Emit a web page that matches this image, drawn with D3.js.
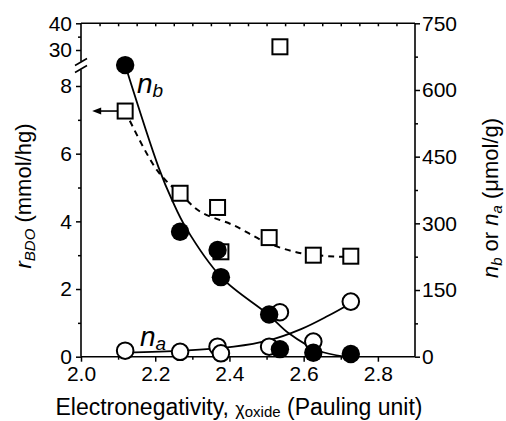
<!DOCTYPE html>
<html>
<head>
<meta charset="utf-8">
<script src="https://cdn.jsdelivr.net/npm/d3@7"></script>
<style>
  body { margin: 0; background: #fff; }
  svg { display: block; font-family: "Liberation Sans", Arial, sans-serif; }
  .axis text { font-size: 21px; fill: #000; }
  .axis line { stroke: #000; stroke-width: 1.5; }
</style>
</head>
<body>
<div id="chart"></div>
<script>
// electronegativity of each oxide
var chi = [2.119, 2.267, 2.368, 2.377, 2.507, 2.536, 2.626, 2.727];
// r_BDO (mmol/hg), left axis (one value sits above the break)
var rBDO = [7.26, 4.83, 4.41, 3.10, 3.52, 31.2, 3.00, 2.97];
// n_b and n_a (umol/g), right axis
var nb = [656, 281, 240, 179, 95, 17, 9, 6];
var na = [13.5, 11, 22.5, 7.6, 22.5, 100, 34, 124];

// fitted curves
var fitR = [[2.119, 7.26], [2.205, 5.51], [2.276, 4.72], [2.322, 4.28], [2.412, 3.88], [2.503, 3.36], [2.593, 3.06], [2.683, 2.96], [2.729, 2.95]];
var fitNb = [[2.119, 656], [2.209, 426], [2.246, 351], [2.282, 291], [2.379, 178], [2.503, 96], [2.561, 52], [2.639, 14], [2.710, 0]];
var fitNa = [[2.119, 9], [2.276, 13.5], [2.412, 22.5], [2.503, 36], [2.593, 62], [2.666, 92], [2.731, 122]];

var xTicks = [2.0, 2.2, 2.4, 2.6, 2.8];
var xMinor = [2.1, 2.3, 2.5, 2.7];
var topTicks = d3.range(1, 18).map(function(i) { return 2 + i * 0.05; });
var yLowTicks = [0, 2, 4, 6, 8];
var yLowMinor = [1, 3, 5, 7];
var yHighTicks = [30, 40];
var yHighMinor = [35];
var yRTicks = [0, 150, 300, 450, 600, 750];
var yRMinor = [75, 225, 375, 525, 675];

var width = 506, height = 421;
var pL = 81, pR = 415, pT = 23.3, pB = 356.7;
var breakLo = 69.5, breakHi = 61.5;

var x = d3.scaleLinear().domain([2.0, 2.9]).range([pL, pR]);
var yLow = d3.scaleLinear().domain([0, 8]).range([pB, 86]);
var yHigh = d3.scaleLinear().domain([30, 40]).range([50, pT]);
var yR = d3.scaleLinear().domain([0, 750]).range([pB, pT]);
function yL(v) { return v > 20 ? yHigh(v) : yLow(v); }

var svg = d3.select("#chart").append("svg")
  .attr("width", width)
  .attr("height", height);

function addAxis(axis, tr) {
  var g = svg.append("g").attr("class", "axis").attr("transform", tr).call(axis);
  g.select(".domain").remove();
  g.attr("font-family", null).attr("font-size", null);
  return g;
}

// bottom
addAxis(d3.axisBottom(x).tickValues(xTicks).tickSize(5).tickPadding(4).tickFormat(d3.format(".1f")), "translate(0," + pB + ")");
addAxis(d3.axisBottom(x).tickValues(xMinor).tickSize(3).tickFormat(""), "translate(0," + pB + ")");
// top, inward ticks
addAxis(d3.axisBottom(x).tickValues(topTicks).tickSize(3).tickFormat(""), "translate(0," + pT + ")");
// left, two segments
addAxis(d3.axisLeft(yLow).tickValues(yLowTicks).tickSize(5).tickPadding(4), "translate(" + pL + ",0)");
addAxis(d3.axisLeft(yLow).tickValues(yLowMinor).tickSize(3).tickFormat(""), "translate(" + pL + ",0)");
addAxis(d3.axisLeft(yHigh).tickValues(yHighTicks).tickSize(5).tickPadding(4), "translate(" + pL + ",0)");
addAxis(d3.axisLeft(yHigh).tickValues(yHighMinor).tickSize(3).tickFormat(""), "translate(" + pL + ",0)");
// right
addAxis(d3.axisRight(yR).tickValues(yRTicks).tickSize(5).tickPadding(2), "translate(" + pR + ",0)");
addAxis(d3.axisRight(yR).tickValues(yRMinor).tickSize(3).tickFormat(""), "translate(" + pR + ",0)");

// frame
var frame = svg.append("g").attr("stroke", "#000").attr("stroke-width", 1.6).attr("fill", "none");
frame.append("line").attr("x1", pL).attr("x2", pR).attr("y1", pB).attr("y2", pB);
frame.append("line").attr("x1", pL).attr("x2", pR).attr("y1", pT).attr("y2", pT);
frame.append("line").attr("x1", pR).attr("x2", pR).attr("y1", pT).attr("y2", pB);
frame.append("line").attr("x1", pL).attr("x2", pL).attr("y1", breakLo).attr("y2", pB);
frame.append("line").attr("x1", pL).attr("x2", pL).attr("y1", pT).attr("y2", breakHi);
// break marks
frame.append("line").attr("x1", pL - 6).attr("x2", pL + 6).attr("y1", breakHi + 4).attr("y2", breakHi - 3);
frame.append("line").attr("x1", pL - 6).attr("x2", pL + 6).attr("y1", breakLo + 3).attr("y2", breakLo - 4);

// curves
var line = function(sc) {
  return d3.line().x(function(d) { return x(d[0]); }).y(function(d) { return sc(d[1]); }).curve(d3.curveCatmullRom);
};
svg.append("path").datum(fitR).attr("d", line(yLow))
  .attr("fill", "none").attr("stroke", "#000").attr("stroke-width", 2).attr("stroke-dasharray", "6,5");
svg.append("path").datum(fitNb).attr("d", line(yR))
  .attr("fill", "none").attr("stroke", "#000").attr("stroke-width", 1.8);
svg.append("path").datum(fitNa).attr("d", line(yR))
  .attr("fill", "none").attr("stroke", "#000").attr("stroke-width", 1.8);

// arrow from first square to the left axis
var ax0 = x(chi[0]) - 8, ay = yL(rBDO[0]);
svg.append("line").attr("x1", ax0).attr("x2", ax0 - 18).attr("y1", ay).attr("y2", ay)
  .attr("stroke", "#000").attr("stroke-width", 1.6);
svg.append("path")
  .attr("d", "M" + (ax0 - 25) + "," + ay + "L" + (ax0 - 16) + "," + (ay - 3.5) + "L" + (ax0 - 16) + "," + (ay + 3.5) + "Z")
  .attr("fill", "#000");

var pts = chi.map(function(c, i) { return { x: c, r: rBDO[i], nb: nb[i], na: na[i] }; });

// squares
svg.append("g").selectAll("rect").data(pts).join("rect")
  .attr("x", function(d) { return x(d.x) - 7.5; })
  .attr("y", function(d) { return yL(d.r) - 7.5; })
  .attr("width", 15).attr("height", 15)
  .attr("fill", "#fff").attr("stroke", "#000").attr("stroke-width", 2);
// open circles n_a
svg.append("g").selectAll("circle").data(pts).join("circle")
  .attr("cx", function(d) { return x(d.x); })
  .attr("cy", function(d) { return yR(d.na); })
  .attr("r", 8.3)
  .attr("fill", "#fff").attr("stroke", "#000").attr("stroke-width", 2);
// filled circles n_b
svg.append("g").selectAll("circle").data(pts).join("circle")
  .attr("cx", function(d) { return x(d.x); })
  .attr("cy", function(d) { return yR(d.nb); })
  .attr("r", 9.2)
  .attr("fill", "#000");

// series labels
var lb = svg.append("text").attr("x", 137).attr("y", 92.7).attr("font-size", 28).attr("font-style", "italic");
lb.append("tspan").text("n");
lb.append("tspan").attr("font-size", 19).attr("dy", 4).text("b");
var la = svg.append("text").attr("x", 140).attr("y", 345.5).attr("font-size", 28).attr("font-style", "italic");
la.append("tspan").text("n");
la.append("tspan").attr("font-size", 19).attr("dy", 4).text("a");

// axis titles
var xt = svg.append("text").attr("x", 239).attr("y", 415).attr("text-anchor", "middle").attr("font-size", 23);
xt.append("tspan").text("Electronegativity, ");
xt.append("tspan").attr("font-size", 18).text("χ");
xt.append("tspan").attr("font-size", 15).attr("dy", 2).text("oxide");
xt.append("tspan").attr("dy", -2).text(" (Pauling unit)");

var yt = svg.append("text").attr("transform", "translate(31,196) rotate(-90)")
  .attr("text-anchor", "middle").attr("font-size", 22);
yt.append("tspan").attr("font-style", "italic").text("r");
yt.append("tspan").attr("font-style", "italic").attr("font-size", 15).attr("dy", 4).text("BDO");
yt.append("tspan").attr("dy", -4).text(" (mmol/hg)");

var rt = svg.append("text").attr("transform", "translate(498,198) rotate(-90)")
  .attr("text-anchor", "middle").attr("font-size", 22);
rt.append("tspan").attr("font-style", "italic").text("n");
rt.append("tspan").attr("font-style", "italic").attr("font-size", 15).attr("dy", 4).text("b");
rt.append("tspan").attr("dy", -4).text(" or ");
rt.append("tspan").attr("font-style", "italic").text("n");
rt.append("tspan").attr("font-style", "italic").attr("font-size", 15).attr("dy", 4).text("a");
rt.append("tspan").attr("dy", -4).text(" (μmol/g)");
</script>
</body>
</html>
